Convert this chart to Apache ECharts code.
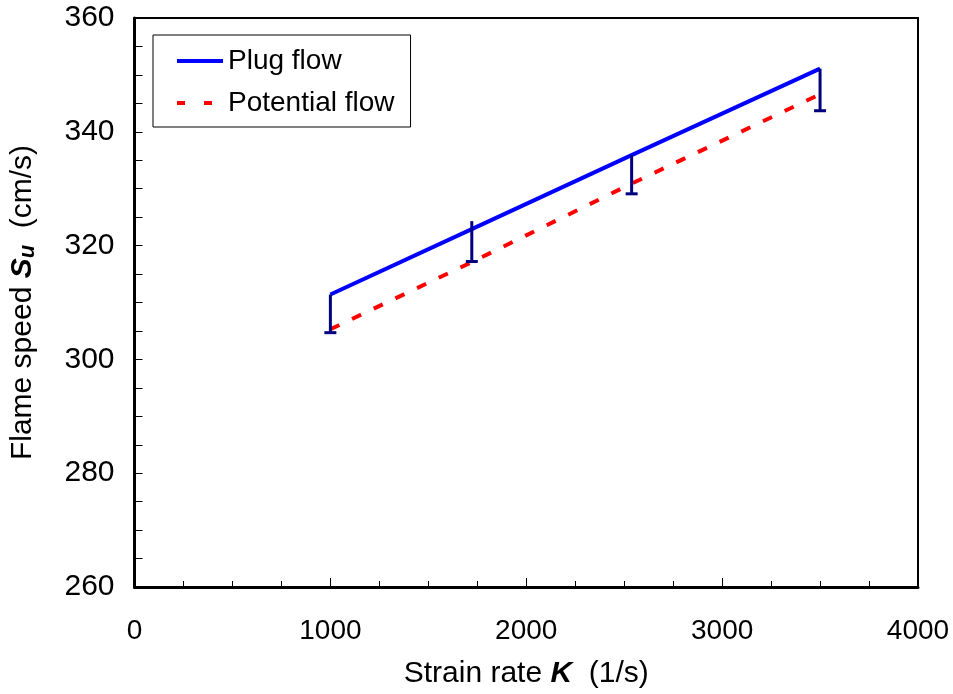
<!DOCTYPE html>
<html>
<head>
<meta charset="utf-8">
<script src="https://cdn.jsdelivr.net/npm/echarts@6/dist/echarts.min.js"></script>
<style>
  html, body { margin: 0; padding: 0; background: #fff; }
  #chart { width: 953px; height: 694px; }
</style>
</head>
<body>
<div id="chart"></div>
<script>
// strain rate K (1/s)
const strainRate = [1000, 1722, 2538, 3500];
const plugFlow = [311.4, 322.9, 335.9, 351.1];
const potentialFlow = [305.3, 317.1, 330.9, 346.6];
// error bar ends (top, bottom)
const errTop = [311.4, 324.3, 335.9, 351.1];
const errBottom = [304.7, 317.2, 329.1, 343.7];

const font = 'Liberation Sans, Arial, sans-serif';

const chart = echarts.init(document.getElementById('chart'), null, { renderer: 'canvas' });

const option = {
  animation: false,
  backgroundColor: '#fff',
  textStyle: { fontFamily: font, color: '#000' },
  grid: {
    left: 133, right: 35, top: 18, bottom: 106,
    show: true, borderColor: '#000', borderWidth: 2
  },
  legend: {
    data: [
      { name: 'Plug flow', lineStyle: { width: 4, color: '#0000ff' } },
      { name: 'Potential flow', lineStyle: { width: 4, color: '#ff0000', type: [8, 19] } }
    ],
    orient: 'vertical',
    left: 153, top: 35,
    borderColor: '#000', borderWidth: 1,
    padding: [12, 16, 10, 22],
    itemWidth: 46, itemHeight: 14, itemGap: 14,
    itemStyle: { opacity: 0 },
    textStyle: { fontSize: 28, fontFamily: font, color: '#000' }
  },
  xAxis: {
    type: 'value', min: 0, max: 4000, interval: 1000,
    axisLine: { onZero: false, lineStyle: { color: '#000', width: 3 } },
    axisTick: { inside: true, length: 9, lineStyle: { color: '#000', width: 1 } },
    minorTick: { show: true, splitNumber: 4, length: 6, lineStyle: { color: '#000', width: 1 } },
    splitLine: { show: false },
    axisLabel: { fontSize: 28, color: '#000', margin: 30, fontFamily: font, formatter: v => String(v) },
    name: 'Strain rate {b|K}  (1/s)',
    nameLocation: 'middle', nameGap: 72,
    nameTextStyle: {
      fontSize: 30, color: '#000', fontFamily: font,
      rich: { b: { fontSize: 30, fontWeight: 'bold', fontStyle: 'italic', fontFamily: font } }
    }
  },
  yAxis: {
    type: 'value', min: 260, max: 360, interval: 20,
    axisLine: { onZero: false, lineStyle: { color: '#000', width: 3 } },
    axisTick: { inside: true, length: 8, lineStyle: { color: '#000', width: 1 } },
    minorTick: { show: true, splitNumber: 4, length: 8, lineStyle: { color: '#000', width: 1 } },
    splitLine: { show: false },
    axisLabel: { fontSize: 30, color: '#000', margin: 20, fontFamily: font },
    name: 'Flame speed {b|S}{s|u}  (cm/s)',
    nameLocation: 'middle', nameGap: 96, nameRotate: 90,
    nameTextStyle: {
      fontSize: 30, color: '#000', fontFamily: font,
      rich: {
        b: { fontSize: 30, fontWeight: 'bold', fontStyle: 'italic', fontFamily: font },
        s: { fontSize: 22, fontWeight: 'bold', fontStyle: 'italic', fontFamily: font, verticalAlign: 'bottom', padding: [9, 0, 0, 0] }
      }
    }
  },
  series: [
    {
      name: 'Potential flow',
      type: 'line',
      data: strainRate.map((k, i) => [k, potentialFlow[i]]),
      symbol: 'none',
      z: 3,
      lineStyle: { color: '#ff0000', width: 4, type: [10, 14] },
      itemStyle: { color: '#ff0000' }
    },
    {
      name: 'Plug flow',
      type: 'line',
      data: strainRate.map((k, i) => [k, plugFlow[i]]),
      symbol: 'none',
      z: 4,
      lineStyle: { color: '#0000ff', width: 4 },
      itemStyle: { color: '#0000ff' }
    },
    {
      name: 'Error',
      type: 'custom',
      z: 5,
      data: strainRate.map((k, i) => [k, errTop[i], errBottom[i]]),
      renderItem: function (params, api) {
        const top = api.coord([api.value(0), api.value(1)]);
        const bot = api.coord([api.value(0), api.value(2)]);
        const cap = 6;
        const style = { stroke: '#000080', lineWidth: 3 };
        return {
          type: 'group',
          children: [
            { type: 'line', shape: { x1: top[0], y1: top[1], x2: bot[0], y2: bot[1] }, style: style },
            { type: 'line', shape: { x1: bot[0] - cap, y1: bot[1], x2: bot[0] + cap, y2: bot[1] }, style: style }
          ]
        };
      }
    }
  ]
};

chart.setOption(option);
</script>
</body>
</html>
